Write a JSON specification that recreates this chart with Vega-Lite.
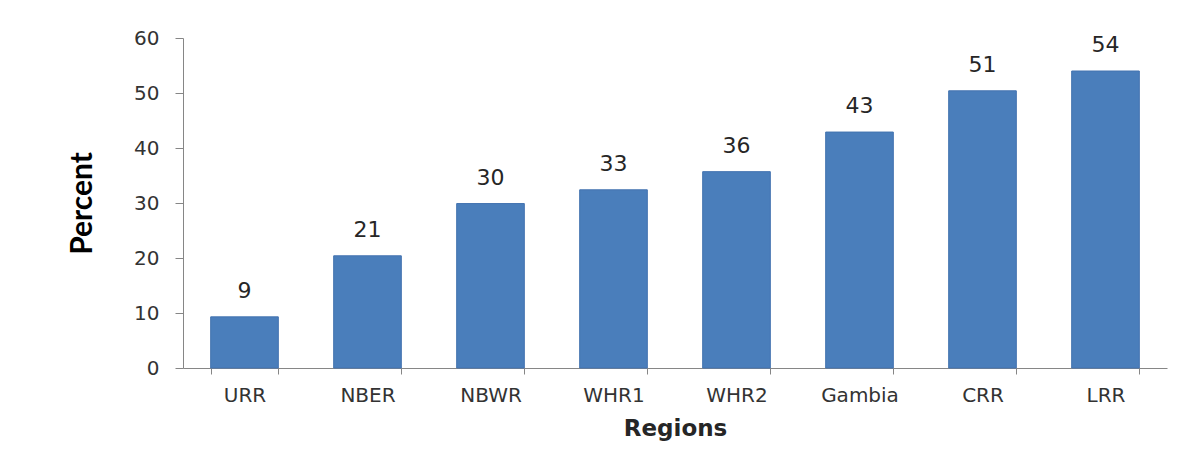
{
  "$schema": "https://vega.github.io/schema/vega-lite/v6.json",
  "width": 984,
  "height": 330,
  "autosize": {"type": "none"},
  "padding": {"left": 183, "top": 38, "right": 22, "bottom": 96},
  "background": "white",
  "config": {"view": {"stroke": null}},
  "data": {
    "values": [
      {"region": "URR", "percent": 9.3, "label": "9"},
      {"region": "NBER", "percent": 20.4, "label": "21"},
      {"region": "NBWR", "percent": 29.9, "label": "30"},
      {"region": "WHR1", "percent": 32.4, "label": "33"},
      {"region": "WHR2", "percent": 35.7, "label": "36"},
      {"region": "Gambia", "percent": 42.9, "label": "43"},
      {"region": "CRR", "percent": 50.4, "label": "51"},
      {"region": "LRR", "percent": 54.0, "label": "54"}
    ]
  },
  "encoding": {
    "x": {
      "field": "region",
      "type": "nominal",
      "sort": null,
      "scale": {"paddingInner": 0.45, "paddingOuter": 0.225},
      "axis": {
        "title": "Regions",
        "titleFont": "DejaVu Sans",
        "titleFontWeight": "bold",
        "titleFontSize": 23,
        "titleColor": "#262626",
        "titlePadding": 12,
        "labelAngle": 0,
        "labelFont": "DejaVu Sans",
        "labelFontSize": 20,
        "labelColor": "#333333",
        "labelPadding": 11,
        "tickBand": "extent",
        "tickSize": 6,
        "tickColor": "#868686",
        "domainColor": "#868686",
        "grid": false
      }
    },
    "y": {
      "field": "percent",
      "type": "quantitative",
      "scale": {"domain": [0, 60], "nice": false},
      "axis": {
        "title": "Percent",
        "titleFont": "Lato",
        "titleFontWeight": "bold",
        "titleFontSize": 30,
        "titleColor": "#000000",
        "titlePadding": 36,
        "values": [0, 10, 20, 30, 40, 50, 60],
        "labelFont": "DejaVu Sans",
        "labelFontSize": 20,
        "labelColor": "#333333",
        "labelPadding": 16,
        "tickSize": 8,
        "tickColor": "#868686",
        "domainColor": "#868686",
        "grid": false
      }
    }
  },
  "layer": [
    {
      "mark": {"type": "bar", "color": "#4a7ebb", "stroke": "#4373b0", "strokeWidth": 1}
    },
    {
      "mark": {"type": "text", "baseline": "bottom", "dy": -14, "font": "DejaVu Sans", "fontSize": 22, "color": "#262626"},
      "encoding": {"text": {"field": "label"}}
    }
  ]
}
